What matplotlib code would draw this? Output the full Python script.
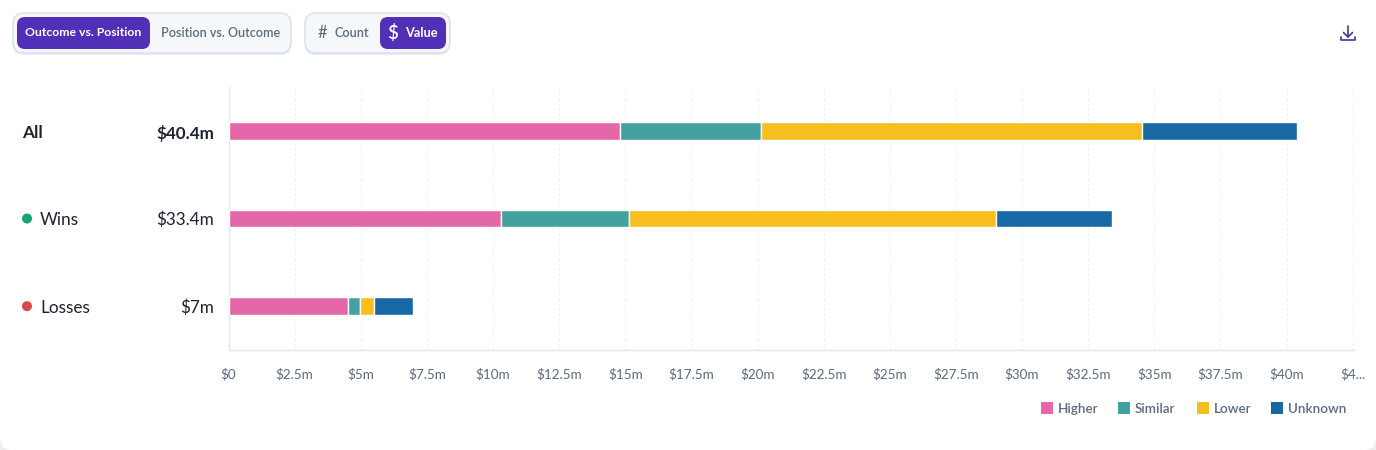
import matplotlib
matplotlib.use("Agg")
import matplotlib.pyplot as plt
from matplotlib.patches import FancyBboxPatch, Rectangle, Circle
import numpy as np

plt.rcParams['font.family'] = ['Lato', 'DejaVu Sans']

W, H = 1376, 450
rows = ["All", "Wins", "Losses"]
totals = ["$40.4m", "$33.4m", "$7m"]
series = ["Higher", "Similar", "Lower", "Unknown"]
higher = [14.8, 10.3, 4.5]
similar = [5.35, 4.85, 0.48]
lower = [14.4, 13.85, 0.52]
unknown = [5.85, 4.4, 1.46]
colors = ["#E468A8", "#43A19F", "#F6BE1E", "#1868A5"]
ticks = [0, 2.5, 5, 7.5, 10, 12.5, 15, 17.5, 20, 22.5, 25, 27.5, 30, 32.5, 35, 37.5, 40, 42.5]
tick_labels = ["$0", "$2.5m", "$5m", "$7.5m", "$10m", "$12.5m", "$15m", "$17.5m", "$20m",
               "$22.5m", "$25m", "$27.5m", "$30m", "$32.5m", "$35m", "$37.5m", "$40m", "$4..."]
row_dots = [None, "#12A56F", "#D34B4B"]

GREY = "#5B6B7F"
PURPLE = "#512FB7"
DARK = "#1F2430"

fig = plt.figure(figsize=(W / 100, H / 100), dpi=100, facecolor="#E9EBEF")

# page layer in pixel coordinates
bg = fig.add_axes([0, 0, 1, 1], zorder=0)
bg.set_xlim(0, W)
bg.set_ylim(H, 0)
bg.axis("off")
bg.add_patch(FancyBboxPatch((0, -20), W, H + 20, boxstyle="round,pad=0,rounding_size=12",
                            fc="white", ec="none", lw=0))


def panel(x, y, w, h, r, fc, ec="none", lw=0, z=2):
    bg.add_patch(FancyBboxPatch((x, y), w, h, boxstyle=f"round,pad=0,rounding_size={r}",
                                fc=fc, ec=ec, lw=lw, zorder=z))


for x, w in ((13, 278), (305, 145)):
    panel(x - 0.5, 14, w + 1, 41, 12, "#E6EDF4", z=1)
    panel(x, 13, w, 40, 11, "#F5F7FA", "#D5E1EC", 1.0, z=2)
panel(17, 17, 133, 32, 8, PURPLE, z=3)
panel(380, 17, 66, 32, 8, PURPLE, z=3)
bg.text(83.5, 33, "Outcome vs. Position", color="white", fontsize=8.85, fontweight="bold",
        ha="center", va="center", zorder=4)
bg.text(221, 33, "Position vs. Outcome", color=GREY, fontsize=9.0, fontweight="semibold",
        ha="center", va="center", zorder=4)
bg.text(322.5, 33.5, "#", color=GREY, fontsize=12, ha="center", va="center", zorder=4)
bg.text(352, 33, "Count", color=GREY, fontsize=9.2, fontweight="semibold",
        ha="center", va="center", zorder=4)
bg.text(393, 33, "$", color="white", fontsize=13.5, fontweight="semibold", ha="center", va="center", zorder=4)
bg.text(421.5, 33, "Value", color="white", fontsize=9.2, fontweight="bold",
        ha="center", va="center", zorder=4)

# download icon
ic = "#46369A"
bg.plot([1348, 1348], [26, 37], color=ic, lw=1.2, solid_capstyle="round", zorder=4)
bg.plot([1343.5, 1348, 1352.5], [32.5, 37, 32.5], color=ic, lw=1.2, solid_capstyle="round", zorder=4)
bg.plot([1341, 1341, 1355, 1355], [36.5, 40, 40, 36.5], color=ic, lw=1.2, solid_capstyle="round",
        solid_joinstyle="round", zorder=4)

# chart
x0, x1, y0, y1 = 228.5, 1354, 87, 350
ax = fig.add_axes([x0 / W, 1 - y1 / H, (x1 - x0) / W, (y1 - y0) / H], zorder=1)
ax.patch.set_alpha(0)
ax.set_xlim(0, (x1 - x0) / 26.45)
ax.set_ylim(2.5, -0.5)
for s in ("top", "right"):
    ax.spines[s].set_visible(False)
for s in ("left", "bottom"):
    ax.spines[s].set_color("#E3E5EA")
    ax.spines[s].set_linewidth(1)
ax.set_axisbelow(True)
ax.set_yticks([])
ax.set_xticks(ticks)
ax.set_xticklabels(tick_labels, fontsize=9.7, color=GREY)
ax.tick_params(axis="x", length=0, pad=13)
ax.xaxis.grid(True, color="#DDE0E5", lw=0.8, ls=(0, (1, 3.5)))

ypos = np.arange(len(rows))
left = np.zeros(len(rows))
for vals, col, name in zip((higher, similar, lower, unknown), colors, series):
    ax.barh(ypos, vals, left=left, height=0.205, color=col, edgecolor="white", linewidth=1, label=name, zorder=3)
    left += np.array(vals)

# row labels
for i, (r, t, d) in enumerate(zip(rows, totals, row_dots)):
    yp = y0 + (i + 0.5) * (y1 - y0) / 3 + 1.5
    bold = i == 0
    bg.text(22 if bold else 40, yp + (1 if bold else 0), r, color=DARK, fontsize=12.4,
            fontweight="bold" if bold else "normal", ha="left", va="center")
    bg.text(214, yp + (1 if bold else 0), t, color=DARK, fontsize=12.3,
            fontweight="bold" if bold else "normal", ha="right", va="center")
    if d:
        bg.add_patch(Circle((27, yp - 1.5), 5, fc=d, ec="none"))

# legend
lx = [1041, 1118, 1197, 1271]
for x, name, col in zip(lx, series, colors):
    bg.add_patch(Rectangle((x, 402), 12, 12, fc=col, ec="none"))
    bg.text(x + 17, 409, name, color=GREY, fontsize=9.7, fontweight="semibold", ha="left", va="center")

fig.savefig("out.png", dpi=100, facecolor=fig.get_facecolor())
